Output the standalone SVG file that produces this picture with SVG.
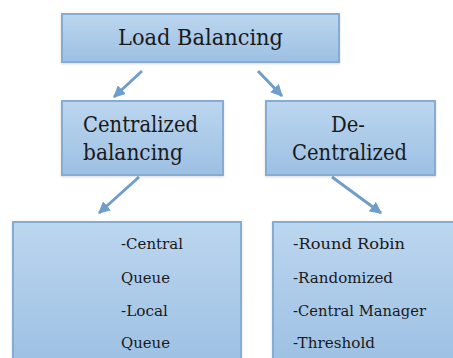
<svg xmlns="http://www.w3.org/2000/svg" width="453" height="358" viewBox="0 0 453 358">
<defs>
<linearGradient id="g" x1="0" y1="0" x2="0" y2="1">
<stop offset="0" stop-color="#bcd6ef"/>
<stop offset="1" stop-color="#9cc0e3"/>
</linearGradient>
<marker id="ah" viewBox="0 0 10 10" refX="9" refY="5" markerWidth="4" markerHeight="4" markerUnits="strokeWidth" orient="auto">
<path d="M0,0 L10,5 L0,10 z" fill="#6f9ecb"/>
</marker>
<filter id="sh" x="-5%" y="-5%" width="110%" height="115%">
<feDropShadow dx="0" dy="1" stdDeviation="1" flood-color="#000" flood-opacity="0.15"/>
</filter>
</defs>
<style>
.box{fill:url(#g);stroke:#86acd3;stroke-width:2;filter:url(#sh)}
text{font-family:'DejaVu Serif','Liberation Serif',serif;fill:#1a1a1a}
.big{font-size:22px}
.sm{font-size:14px}
.c{stroke:#6f9ecb;stroke-width:3;fill:none;marker-end:url(#ah)}
</style>
<rect width="453" height="358" fill="#ffffff"/>
<g id="connectors">
<line class="c" x1="142" y1="71" x2="114" y2="97"/>
<line class="c" x1="258" y1="71" x2="282" y2="96"/>
<line class="c" x1="139" y1="177" x2="99" y2="213"/>
<line class="c" x1="332" y1="177" x2="381" y2="213"/>
</g>
<g id="load-balancing">
<rect class="box" x="62" y="14" width="277" height="48"/>
<text class="big" x="118" y="45" textLength="165" lengthAdjust="spacingAndGlyphs">Load Balancing</text>
</g>
<g id="centralized-balancing">
<rect class="box" x="62" y="101" width="161" height="74"/>
<text class="big" x="83" y="132" textLength="115" lengthAdjust="spacingAndGlyphs">Centralized</text>
<text class="big" x="83" y="160" textLength="100" lengthAdjust="spacingAndGlyphs">balancing</text>
</g>
<g id="de-centralized">
<rect class="box" x="266" y="101" width="169" height="74"/>
<text class="big" x="331" y="132" textLength="34" lengthAdjust="spacingAndGlyphs">De-</text>
<text class="big" x="292" y="160" textLength="115" lengthAdjust="spacingAndGlyphs">Centralized</text>
</g>
<g id="central-list">
<rect class="box" x="13" y="222" width="228" height="146"/>
<text class="sm" x="121" y="249" textLength="62" lengthAdjust="spacingAndGlyphs">-Central</text>
<text class="sm" x="121" y="283" textLength="49" lengthAdjust="spacingAndGlyphs">Queue</text>
<text class="sm" x="121" y="316" textLength="47" lengthAdjust="spacingAndGlyphs">-Local</text>
<text class="sm" x="121" y="348" textLength="49" lengthAdjust="spacingAndGlyphs">Queue</text>
</g>
<g id="decentral-list">
<rect class="box" x="273" y="222" width="190" height="146"/>
<text class="sm" x="293" y="249" textLength="112" lengthAdjust="spacingAndGlyphs">-Round Robin</text>
<text class="sm" x="293" y="283" textLength="100" lengthAdjust="spacingAndGlyphs">-Randomized</text>
<text class="sm" x="293" y="316" textLength="133" lengthAdjust="spacingAndGlyphs">-Central Manager</text>
<text class="sm" x="293" y="348" textLength="82" lengthAdjust="spacingAndGlyphs">-Threshold</text>
</g>
</svg>
